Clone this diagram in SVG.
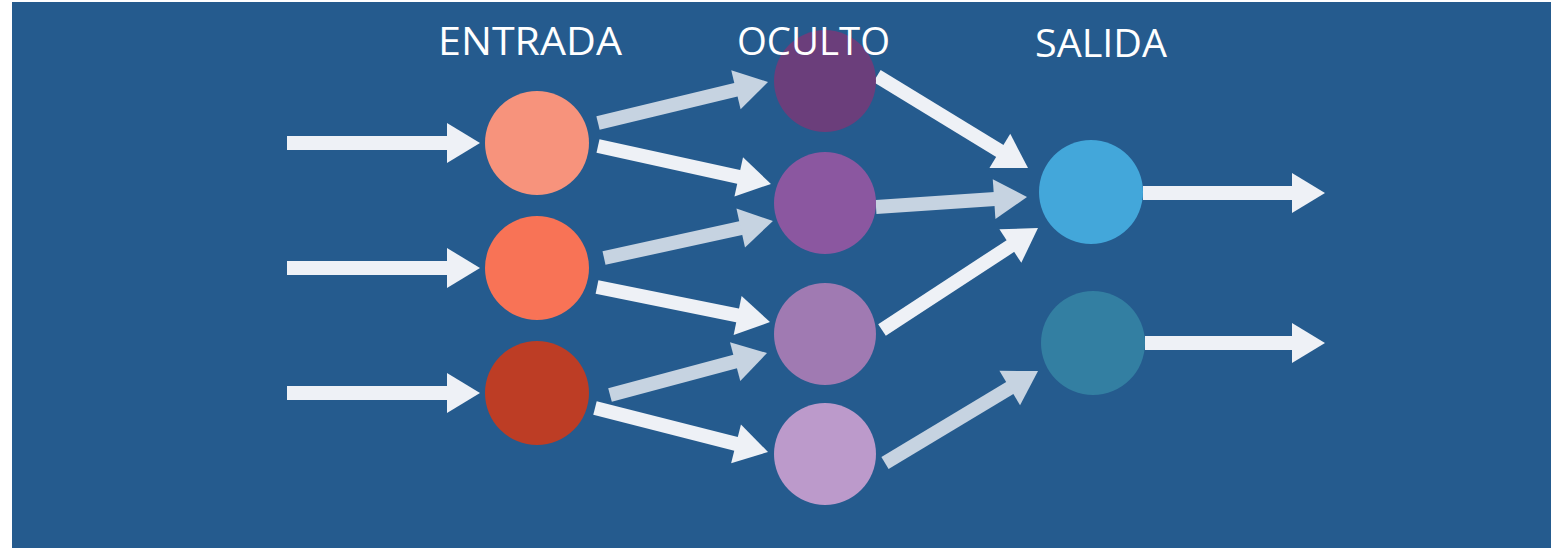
<svg xmlns="http://www.w3.org/2000/svg" width="1565" height="548" viewBox="0 0 1565 548">
<style>
.lbl{font-family:"Open Sans","Liberation Sans",sans-serif;font-size:39px;fill:#ffffff}
.w{stroke:#EEF1F6;stroke-width:14;fill:none;marker-end:url(#hw)}
.g{stroke:#C6D3E1;stroke-width:14;fill:none;marker-end:url(#hg)}
</style>
<defs>
<marker id="hw" markerUnits="userSpaceOnUse" markerWidth="40" markerHeight="44" refX="1" refY="20" orient="auto" overflow="visible"><path d="M0,0 L33,20 L0,40 z" fill="#EEF1F6"/></marker>
<marker id="hg" markerUnits="userSpaceOnUse" markerWidth="40" markerHeight="44" refX="1" refY="20" orient="auto" overflow="visible"><path d="M0,0 L33,20 L0,40 z" fill="#C6D3E1"/></marker>
</defs>
<rect x="0" y="0" width="1565" height="548" fill="#ffffff"/>
<rect x="12" y="2" width="1539" height="546" fill="#255B8E"/>
<g id="connectors">
<line class="w" x1="287" y1="143" x2="448" y2="143"/>
<line class="w" x1="287" y1="268" x2="448" y2="268"/>
<line class="w" x1="287" y1="393" x2="448" y2="393"/>
<line class="g" x1="598" y1="123" x2="736.9" y2="89.5"/>
<line class="w" x1="598" y1="146" x2="739.7" y2="177.1"/>
<line class="g" x1="604" y1="258" x2="741.7" y2="227.8"/>
<line class="w" x1="597" y1="287" x2="738.6" y2="315.7"/>
<line class="g" x1="610" y1="395" x2="736.1" y2="361.3"/>
<line class="w" x1="595" y1="408" x2="737" y2="444.1"/>
<line class="w" x1="877" y1="76" x2="1000.7" y2="151.4"/>
<line class="g" x1="876" y1="207" x2="995.1" y2="199.1"/>
<line class="w" x1="882" y1="330" x2="1011.2" y2="245.5"/>
<line class="g" x1="885" y1="463" x2="1010.6" y2="387.5"/>
<line class="w" x1="1143" y1="193" x2="1293" y2="193"/>
<line class="w" x1="1145" y1="343" x2="1293" y2="343"/>
</g>
<g id="in1"><circle cx="537" cy="143" r="52" fill="#F7937C"/></g>
<g id="in2"><circle cx="537" cy="268" r="52" fill="#F87356"/></g>
<g id="in3"><circle cx="537" cy="393" r="52" fill="#BD3D25"/></g>
<g id="h1"><circle cx="825" cy="81" r="51" fill="#6B3E7B"/></g>
<g id="h2"><circle cx="825" cy="203" r="51" fill="#8B57A0"/></g>
<g id="h3"><circle cx="825" cy="334" r="51" fill="#A07AB2"/></g>
<g id="h4"><circle cx="825" cy="454" r="51" fill="#BC9ACB"/></g>
<g id="o1"><circle cx="1091" cy="192" r="52" fill="#43A7DA"/></g>
<g id="o2"><circle cx="1093" cy="343" r="52" fill="#337FA2"/></g>
<g id="labels">
<text class="lbl" x="438" y="55" textLength="184" lengthAdjust="spacingAndGlyphs">ENTRADA</text>
<text class="lbl" x="737" y="55" textLength="153" lengthAdjust="spacingAndGlyphs">OCULTO</text>
<text class="lbl" x="1035" y="57" textLength="132" lengthAdjust="spacingAndGlyphs">SALIDA</text>
</g>
</svg>
